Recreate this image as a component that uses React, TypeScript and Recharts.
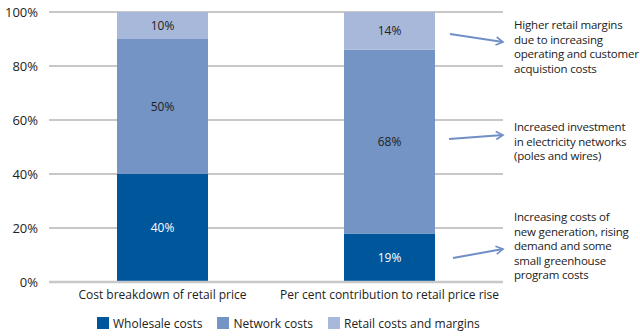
import React from 'react'
import { BarChart, Bar, XAxis, YAxis, CartesianGrid, Legend, LabelList, Customized, ReferenceLine } from 'recharts'

const categories = ['Cost breakdown of retail price', 'Per cent contribution to retail price rise']
const wholesale = [40, 18]
const network = [50, 68]
const retail = [10, 14]
const wholesaleLabels = ['40%', '19%']
const networkLabels = ['50%', '68%']
const retailLabels = ['10%', '14%']
const yTicks = [0, 20, 40, 60, 80, 100]

const notes = [
  { lines: ['Higher retail margins', 'due to increasing', 'operating and customer', 'acquistion costs'], y: 29, arrow: [450, 34, 503, 42] },
  { lines: ['Increased investment', 'in electricity networks', '(poles and wires)'], y: 131, arrow: [449, 139, 503, 135] },
  { lines: ['Increasing costs of', 'new generation, rising', 'demand and some', 'small greenhouse', 'program costs'], y: 221, arrow: [453, 258, 503, 249] },
]

const COLORS = { wholesale: '#00569b', network: '#7394c4', retail: '#a8b8da' }
const FONT = '"Open Sans", sans-serif'

const data = categories.map((name, i) => ({
  name,
  wholesale: wholesale[i],
  network: network[i],
  retail: retail[i],
  wl: wholesaleLabels[i],
  nl: networkLabels[i],
  rl: retailLabels[i],
}))

const legendItems = [
  { label: 'Wholesale costs', color: COLORS.wholesale },
  { label: 'Network costs', color: COLORS.network },
  { label: 'Retail costs and margins', color: COLORS.retail },
]

const LegendContent = () => (
  <div style={{ display: 'flex', height: 26, alignItems: 'center', fontFamily: FONT, fontSize: 12, color: '#222', paddingLeft: 97, whiteSpace: 'nowrap' }}>
    {legendItems.map((it) => (
      <div key={it.label} style={{ display: 'flex', alignItems: 'center', marginRight: 15 }}>
        <span style={{ width: 12, height: 12, background: it.color, display: 'inline-block', marginRight: 4 }} />
        {it.label}
      </div>
    ))}
  </div>
)

const Notes = () => (
  <g>
    <defs>
      <marker id="arr" markerWidth="10" markerHeight="10" refX="8" refY="5" orient="auto" markerUnits="userSpaceOnUse">
        <path d="M1,1 L8,5 L1,9" fill="none" stroke="#6f8fc6" strokeWidth={1.6} />
      </marker>
    </defs>
    {notes.map((n, i) => (
      <g key={i}>
        <line x1={n.arrow[0]} y1={n.arrow[1]} x2={n.arrow[2]} y2={n.arrow[3]} stroke="#6f8fc6" strokeWidth={2} markerEnd="url(#arr)" />
        {n.lines.map((l, j) => (
          <text key={j} x={514} y={n.y + j * 14.6} fontFamily={FONT} fontSize={11.5} letterSpacing={-0.2} fill="#222">{l}</text>
        ))}
      </g>
    ))}
  </g>
)

export default function App() {
  return (
    <div style={{ width: 640, height: 336 }}>
      <style>{'body{margin:0}'}</style>
      <BarChart width={640} height={336} data={data} margin={{ top: 12, right: 137, bottom: 0, left: 0 }} barSize={91}>
        <CartesianGrid vertical={false} stroke="#8f8f8f" strokeWidth={1.2} />
        <ReferenceLine y={0} stroke="#c8c8c8" strokeWidth={2.5} />
        <XAxis dataKey="name" axisLine={false} tickLine={false} height={28} tick={{ fontFamily: FONT, fontSize: 12, fill: '#222' }} tickMargin={2} />
        <YAxis domain={[0, 100]} ticks={yTicks} width={49} axisLine={false} tickLine={false} tickMargin={5} tickFormatter={(v) => `${v}%`} tick={{ fontFamily: FONT, fontSize: 13, fill: '#222' }} />
        <Legend verticalAlign="bottom" height={26} wrapperStyle={{ left: 0, width: 640 }} content={<LegendContent />} />
        <Bar dataKey="wholesale" stackId="a" fill={COLORS.wholesale} isAnimationActive={false}>
          <LabelList dataKey="wl" position="center" fill="#fff" fontFamily={FONT} fontSize={12} />
        </Bar>
        <Bar dataKey="network" stackId="a" fill={COLORS.network} isAnimationActive={false}>
          <LabelList dataKey="nl" position="center" fill="#222" fontFamily={FONT} fontSize={12} />
        </Bar>
        <Bar dataKey="retail" stackId="a" fill={COLORS.retail} isAnimationActive={false}>
          <LabelList dataKey="rl" position="center" fill="#222" fontFamily={FONT} fontSize={12} />
        </Bar>
        <Customized component={Notes} />
      </BarChart>
    </div>
  )
}
